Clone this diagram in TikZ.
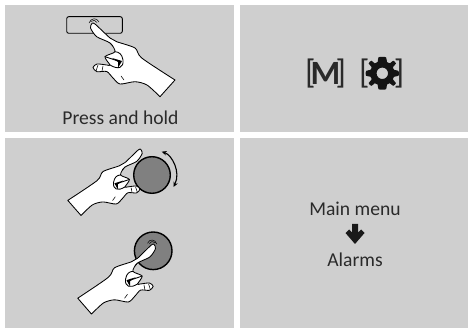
\documentclass[tikz,border=0pt]{standalone}
\usepackage{fontspec}
\usetikzlibrary{arrows.meta}
\setmainfont{Carlito}
\definecolor{panel}{HTML}{CFCFCF}
\definecolor{ink}{HTML}{2A2A2A}
\definecolor{knob}{HTML}{808080}
\tikzset{
  panelbox/.style={fill=panel,draw=none},
  label/.style={text=ink,font=\fontsize{19.6}{20}\selectfont,inner sep=0pt,anchor=base},
  brack/.style={text=ink,font=\fontsize{34}{34}\selectfont,inner sep=0pt,anchor=base},
  knobdisc/.style={fill=knob,draw=black,line width=1.4pt},
  handline/.style={draw=black,line width=.85pt,line join=round,line cap=round}
}
\newcommand{\handdrawing}{%
    \filldraw[handline,fill=white] (175,80) -- plot[smooth,tension=.45] coordinates {
      (160,96.7) (147,85) (135,81.7) (120,84) (113,78) (106.7,71.5) (97,71.7) (93,67.5) (97,64) (106.7,65) (110,65)
      (105,56.7) (115,51.7) (110,43) (96.7,36.7) (90.5,28) (92,23.5) (95,24) (110,38) (116.7,41.7) (135,48) (141.7,58) (175,80)} -- cycle;
    \draw[handline] (105,56.7) -- (121,62) (110,65) .. controls (118,70) and (124,68) .. (123,60) .. controls (122,54) and (119,52) .. (115,51.7);
    \fill[black] (112,58) -- (122,61) -- (118,68) -- (118,62) -- cycle;
    \draw[handline,line width=.55pt] (96,71) -- (98,65) (102,71) -- (103,66) (110,43) -- (113,46) (124,80) -- (121,76);
}
\newcommand{\touchmarks}{%
    \draw[handline,line width=.5pt] (91,21.5) .. controls (93,19.5) and (96,20) .. (97,22.5) (89,23) .. controls (91,17.5) and (97,17.5) .. (99,22);
}
\begin{document}
\begin{tikzpicture}[x=1pt,y=-1pt]
\useasboundingbox (0,0) rectangle (468,328);
\fill[white] (0,0) rectangle (468,328);
\path[panelbox] (5,4.7) rectangle (233.5,132);
\path[panelbox] (5,137.7) rectangle (233.5,328);
\path[panelbox] (240,4.7) rectangle (468,132);
\path[panelbox] (240,137.7) rectangle (468,328);
% top-left
\draw[line width=.9pt,rounded corners=2pt] (66.7,16.7) rectangle (122.3,33.3);
\handdrawing\touchmarks
\node[label] at (120.5,125) {Press and hold};
% knob with rotating hand
\draw[knobdisc] (152,175) circle (18.3);
\draw[line width=1.1pt,{Stealth[length=5pt,width=4.5pt]}-{Stealth[length=5pt,width=4.5pt]}] (161.7,151.7) .. controls (172,155) and (181,172) .. (173.5,187);
\begin{scope}[shift={(141.7,150)},xscale=-.88,yscale=.9,shift={(-91,-24)}]
\handdrawing
\end{scope}
% knob with pressing hand
\draw[knobdisc] (153.2,250.8) circle (18.8);
\begin{scope}[shift={(155,245)},xscale=-.92,yscale=.95,shift={(-91,-24)}]
\handdrawing\touchmarks
\end{scope}
% top-right
\node[brack,anchor=base west] at (305,84) {[};
\node[brack,anchor=base,font=\fontsize{34}{34}\selectfont\bfseries] at (325.5,85) {M};
\node[brack,anchor=base east] at (346.3,84) {]};
\node[brack,anchor=base west] at (359,84) {[};
\node[brack,anchor=base east] at (404.5,84) {]};
\begin{scope}[shift={(382.3,73.3)},scale=.82,shift={(-383.3,-75.7)}]
\fill[black!92,even odd rule]
  plot[smooth cycle,tension=.6] coordinates {
   (383.3,55.8) (388,56.3) (389,62) (392.5,63.6) (396.5,60.4) (399.9,63.8) (396.4,68) (398,71.6) (403,72.8) (403.2,78.6) (398,79.8) (396.4,83.4) (399.9,87.6) (396.5,91) (392.5,87.8) (389,89.4) (388,95) (383.3,95.6) (378.6,95) (377.6,89.4) (374.1,87.8) (370.1,91) (366.7,87.6) (370.2,83.4) (368.6,79.8) (363.4,78.6) (363.6,72.8) (368.6,71.6) (370.2,68) (366.7,63.8) (370.1,60.4) (374.1,63.6) (377.6,62) (378.6,56.3)}
  (383.3,75.7) circle (7);
\end{scope}
% bottom-right
\node[label] at (355,215.7) {Main menu};
\node[label] at (355,266.7) {Alarms};
\fill[black!90,line join=round] (352,224) -- (358,224) -- (358,232.5) -- (361,229.5) -- (364.5,233) -- (355,244) -- (345.5,233) -- (349,229.5) -- (352,232.5) -- cycle;
\end{tikzpicture}
\end{document}
